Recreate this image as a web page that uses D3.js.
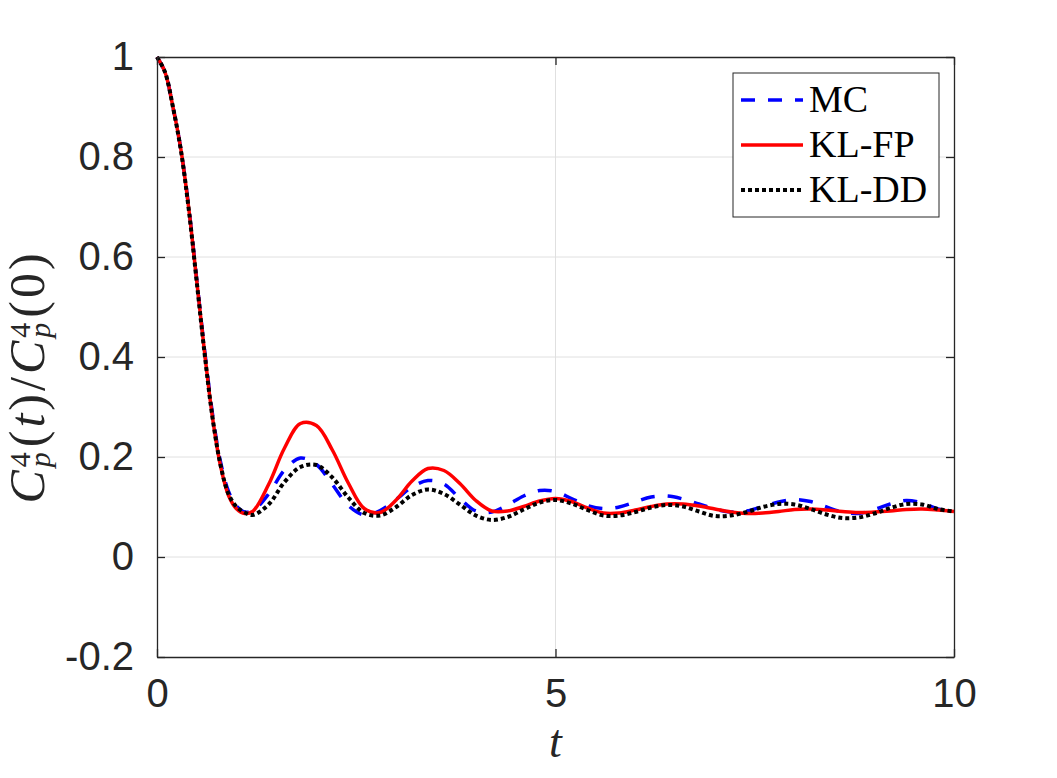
<!DOCTYPE html>
<html>
<head>
<meta charset="utf-8">
<script src="https://cdn.jsdelivr.net/npm/d3@7"></script>
<style>
  body { margin: 0; background: #fff; }
  svg { display: block; }
</style>
</head>
<body>
<svg id="chart"></svg>
<script>
/**
 * @Data
 */
const times = [0, 0.1, 0.2, 0.3, 0.4, 0.5, 0.6, 0.7, 0.8, 0.9, 1.0, 1.1, 1.2,
  1.4, 1.6, 1.8, 2.0, 2.2, 2.4, 2.6, 2.8, 3.0, 3.2, 3.4, 3.6, 3.8, 4.0, 4.2, 4.4,
  4.6, 4.8, 5.0, 5.2, 5.4, 5.6, 5.8, 6.0, 6.2, 6.4, 6.6, 6.8, 7.0, 7.2, 7.4, 7.6,
  7.8, 8.0, 8.2, 8.4, 8.6, 8.8, 9.0, 9.2, 9.4, 9.6, 9.8, 10.0]

const mcValues = [1, 0.97, 0.9, 0.815, 0.697, 0.553, 0.41, 0.282, 0.188, 0.13, 0.101, 0.09, 0.092,
  0.126, 0.174, 0.198, 0.185, 0.145, 0.103, 0.084, 0.093, 0.115, 0.140, 0.153, 0.146, 0.117, 0.092, 0.090, 0.104,
  0.122, 0.133, 0.131, 0.117, 0.103, 0.097, 0.100, 0.110, 0.120, 0.122, 0.116, 0.106, 0.096, 0.090, 0.092, 0.101,
  0.110, 0.115, 0.111, 0.100, 0.090, 0.087, 0.095, 0.106, 0.113, 0.108, 0.096, 0.090]

const klfpValues = [1, 0.97, 0.9, 0.815, 0.695, 0.55, 0.405, 0.275, 0.18, 0.122, 0.096, 0.087, 0.091,
  0.145, 0.218, 0.267, 0.263, 0.214, 0.148, 0.097, 0.089, 0.114, 0.152, 0.177, 0.173, 0.147, 0.113, 0.092, 0.092,
  0.101, 0.112, 0.117, 0.111, 0.098, 0.088, 0.088, 0.094, 0.101, 0.106, 0.106, 0.102, 0.096, 0.090, 0.087, 0.088,
  0.091, 0.095, 0.096, 0.094, 0.091, 0.089, 0.090, 0.092, 0.095, 0.096, 0.094, 0.091]

const klddValues = [1, 0.97, 0.9, 0.813, 0.693, 0.548, 0.403, 0.275, 0.182, 0.125, 0.1, 0.089, 0.084,
  0.105, 0.150, 0.180, 0.184, 0.159, 0.119, 0.088, 0.083, 0.100, 0.124, 0.135, 0.126, 0.105, 0.083, 0.074, 0.080,
  0.095, 0.109, 0.114, 0.107, 0.094, 0.083, 0.083, 0.090, 0.099, 0.104, 0.101, 0.091, 0.082, 0.083, 0.090, 0.100,
  0.106, 0.105, 0.096, 0.085, 0.078, 0.079, 0.087, 0.098, 0.106, 0.105, 0.096, 0.091]

const seriesNames = ['MC', 'KL-FP', 'KL-DD']

const xTicks = [0, 5, 10]
const xTickLabels = ['0', '5', '10']
const yTicks = [-0.2, 0, 0.2, 0.4, 0.6, 0.8, 1]
const yTickLabels = ['-0.2', '0', '0.2', '0.4', '0.6', '0.8', '1']


/**
 * @Container
 */
const WIDTH = 1057
const HEIGHT = 778
const PLOT = { left: 157, right: 954, top: 57, bottom: 657 }
const AXIS_COLOR = '#262626'
const TICK_FONT = '"Liberation Sans", Arial, Helvetica, sans-serif'
const MATH_FONT = '"Liberation Serif", "Times New Roman", serif'

const svg = d3.select('#chart')
  .attr('width', WIDTH)
  .attr('height', HEIGHT)

svg.append('rect')
  .attr('width', WIDTH)
  .attr('height', HEIGHT)
  .attr('fill', '#fff')

// scales
const scaleX = d3.scaleLinear().domain([0, 10]).range([PLOT.left, PLOT.right])
const scaleY = d3.scaleLinear().domain([-0.2, 1]).range([PLOT.bottom, PLOT.top])


/**
 * @Grid
 */
const grid = svg.append('g')

grid.selectAll('.gridX')
  .data(xTicks.slice(1, -1))
  .enter()
  .append('line')
  .attr('x1', d => scaleX(d))
  .attr('x2', d => scaleX(d))
  .attr('y1', PLOT.top)
  .attr('y2', PLOT.bottom)
  .attr('stroke', '#e0e0e0')
  .attr('stroke-width', 1)

grid.selectAll('.gridY')
  .data(yTicks.slice(1, -1))
  .enter()
  .append('line')
  .attr('x1', PLOT.left)
  .attr('x2', PLOT.right)
  .attr('y1', d => scaleY(d))
  .attr('y2', d => scaleY(d))
  .attr('stroke', '#e0e0e0')
  .attr('stroke-width', 1)


/**
 * @Lines
 */
const series = [
  { name: seriesNames[0], values: mcValues, color: '#0000ff', dash: '14,13', width: 3.5 },
  { name: seriesNames[1], values: klfpValues, color: '#ff0000', dash: null, width: 3.5 },
  { name: seriesNames[2], values: klddValues, color: '#000000', dash: '4,3', width: 4 }
]

const line = d3.line()
  .x((d, i) => scaleX(times[i]))
  .y(d => scaleY(d))
  .curve(d3.curveCatmullRom.alpha(0.5))

svg.append('g')
  .selectAll('path')
  .data(series)
  .enter()
  .append('path')
  .attr('d', d => line(d.values))
  .attr('fill', 'none')
  .attr('stroke', d => d.color)
  .attr('stroke-width', d => d.width)
  .attr('stroke-dasharray', d => d.dash)
  .attr('stroke-linejoin', 'round')


/**
 * @Axes
 */
function styleAxis(g){
  g.select('.domain').attr('stroke', AXIS_COLOR).attr('stroke-width', 1.3)
  g.selectAll('.tick line').attr('stroke', AXIS_COLOR).attr('stroke-width', 1.3)
  g.selectAll('.tick text')
    .attr('fill', AXIS_COLOR)
    .style('font-family', TICK_FONT)
    .style('font-size', '40px')
}

svg.append('g')
  .attr('transform', `translate(0,${PLOT.bottom})`)
  .call(d3.axisBottom(scaleX).tickValues(xTicks)
    .tickFormat((d, i) => xTickLabels[i])
    .tickSizeInner(-8).tickSizeOuter(0).tickPadding(22))
  .call(styleAxis)

svg.append('g')
  .attr('transform', `translate(0,${PLOT.top})`)
  .call(d3.axisTop(scaleX).tickValues(xTicks).tickFormat('')
    .tickSizeInner(-8).tickSizeOuter(0))
  .call(styleAxis)

svg.append('g')
  .attr('transform', `translate(${PLOT.left},0)`)
  .call(d3.axisLeft(scaleY).tickValues(yTicks)
    .tickFormat((d, i) => yTickLabels[i])
    .tickSizeInner(-8).tickSizeOuter(0).tickPadding(23))
  .call(styleAxis)

svg.append('g')
  .attr('transform', `translate(${PLOT.right},0)`)
  .call(d3.axisRight(scaleY).tickValues(yTicks).tickFormat('')
    .tickSizeInner(-8).tickSizeOuter(0))
  .call(styleAxis)


/**
 * @Labels
 */
const xLabel = svg.append('text')
  .attr('x', scaleX(5))
  .attr('y', 757)
  .attr('text-anchor', 'middle')
  .attr('fill', AXIS_COLOR)
  .style('font-family', MATH_FONT)
  .style('font-size', '46px')
  .style('font-style', 'italic')
  .text('t')

const yLabel = svg.append('text')
  .attr('transform', 'translate(44,377) rotate(-90)')
  .attr('text-anchor', 'middle')
  .attr('fill', AXIS_COLOR)
  .style('font-family', MATH_FONT)
  .style('font-size', '50px')
  .style('letter-spacing', '3px')

// C with stacked superscript 4 and subscript p, then an opening bracket
function addC(label){
  label.append('tspan').style('font-style', 'italic').text('C')
  label.append('tspan').attr('dy', -14).style('font-size', '30px').text('4')
  label.append('tspan').attr('dx', -18).attr('dy', 20).style('font-size', '30px').style('font-style', 'italic').text('p')
  label.append('tspan').attr('dx', 2).attr('dy', -6).text('(')
}
addC(yLabel)
yLabel.append('tspan').style('font-style', 'italic').text('t')
yLabel.append('tspan').text(')/')
addC(yLabel)
yLabel.append('tspan').text('0)')


/**
 * @Legend
 */
const legend = svg.append('g')
  .attr('transform', 'translate(733,73)')

legend.append('rect')
  .attr('width', 206)
  .attr('height', 144)
  .attr('fill', '#fff')
  .attr('stroke', AXIS_COLOR)
  .attr('stroke-width', 1)

const legendRow = legend.selectAll('.legendRow')
  .data(series)
  .enter()
  .append('g')
  .attr('transform', (d, i) => `translate(0,${27 + i * 45})`)

legendRow.append('line')
  .attr('x1', 8)
  .attr('x2', 70)
  .attr('stroke', d => d.color)
  .attr('stroke-width', d => d.width)
  .attr('stroke-dasharray', d => d.dash)

legendRow.append('text')
  .attr('x', 76)
  .attr('y', 12)
  .attr('fill', '#000')
  .style('font-family', MATH_FONT)
  .style('font-size', '38px')
  .text(d => d.name)
</script>
</body>
</html>
